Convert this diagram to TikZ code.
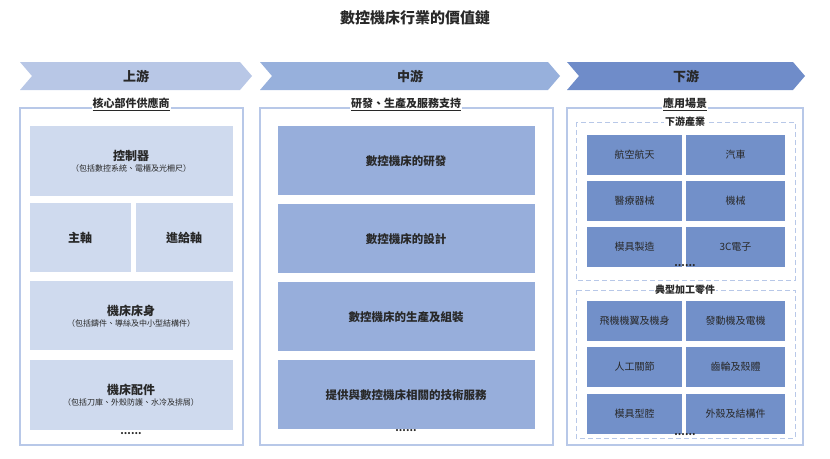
\documentclass[tikz,border=0pt]{standalone}
\usepackage{fontspec}
\setmainfont{Noto Sans CJK TC}
\usepackage{tikz}
\usetikzlibrary{positioning}
\definecolor{upband}{RGB}{184, 199, 230}
\definecolor{upbox}{RGB}{207, 218, 238}
\definecolor{midband}{RGB}{151, 176, 220}
\definecolor{midbox}{RGB}{151, 174, 219}
\definecolor{downband}{RGB}{111, 140, 201}
\definecolor{downbox}{RGB}{114, 144, 201}
\definecolor{framec}{RGB}{184, 200, 232}
\definecolor{txt}{RGB}{40, 40, 40}
\tikzset{
  band/.style={inner sep=0pt, font=\bfseries\fontsize{13}{13}\selectfont, text=txt},
  sub/.style={inner sep=1pt, font=\bfseries\fontsize{11}{11}\selectfont, text=txt, fill=white},
  frame/.style={draw=framec, line width=1.2pt},
  dframe/.style={draw=framec, line width=1pt, dash pattern=on 5pt off 3pt},
  cell/.style={anchor=north west, inner sep=0pt, align=center, text=txt},
  dots/.style={font=\bfseries\fontsize{10}{10}\selectfont, text=txt}
}
\begin{document}
\begin{tikzpicture}[x=1pt,y=-1pt]
\useasboundingbox (0,0) rectangle (830,458);
% Title
\node[font=\bfseries\fontsize{15}{15}\selectfont, text=txt] (title) at (415,18) {數控機床行業的價值鏈};

% Banners
\fill[upband] (20,62) -- (240,62) -- (252,76) -- (240,90) -- (20,90) -- (32,76) -- cycle;
\fill[midband] (260,62) -- (548,62) -- (560,76) -- (548,90) -- (260,90) -- (272,76) -- cycle;
\fill[downband] (567,62) -- (793,62) -- (805,76) -- (793,90) -- (567,90) -- (579,76) -- cycle;
\node[band] (up) at (136,76) {上游};
\node[band] (mid) at (410,76) {中游};
\node[band] (down) at (686,76) {下游};

% Frames
\draw[frame] (20,108) rectangle (243,445);
\draw[frame] (260,108) rectangle (553,445);
\draw[frame] (567,108) rectangle (803,445);
\node[sub] (upsub) at (131,104) {\underline{核心部件供應商}};
\node[sub] (midsub) at (406,104) {\underline{研發、生產及服務支持}};
\node[sub] (downsub) at (685,104) {\underline{應用場景}};

% Upstream
\fill[upbox] (30,126) rectangle (233,196);
\node[cell, anchor=center] (ctrl) at (131,161) {\bfseries\fontsize{12}{14}\selectfont 控制器\\[-1pt]\fontsize{8}{9}\selectfont（包括數控系統、電櫃及光柵尺）};
\fill[upbox] (30,203) rectangle (131,272);
\fill[upbox] (136,203) rectangle (233,272);
\node[cell, anchor=center, font=\bfseries\fontsize{12}{12}\selectfont] (spindle) at (80,238) {主軸};
\node[cell, anchor=center, font=\bfseries\fontsize{12}{12}\selectfont] (feed) at (184,238) {進給軸};
\fill[upbox] (30,281) rectangle (233,350);
\node[cell, anchor=center] (bed) at (131,316) {\bfseries\fontsize{12}{14}\selectfont 機床床身\\[-1pt]\fontsize{8}{9}\selectfont（包括鑄件、導絲及中小型結構件）};
\fill[upbox] (30,360) rectangle (233,430);
\node[cell, anchor=center] (acc) at (131,395) {\bfseries\fontsize{12}{14}\selectfont 機床配件\\[-1pt]\fontsize{8}{9}\selectfont（包括刀庫、外殼防護、水冷及排屑）};
\node[dots] (updots) at (131,434) {......};

% Midstream
\foreach \y/\t [count=\i] in {126/數控機床的研發, 204/數控機床的設計, 282/數控機床的生產及組裝, 360/提供與數控機床相關的技術服務}{
  \fill[midbox] (278,\y) rectangle (535,\y+69);
  \node[cell, anchor=center, font=\bfseries\fontsize{11.5}{12}\selectfont] (mid\i) at (406,\y+35) {\t};
}
\node[dots] (middots) at (406,431) {......};

% Downstream
\draw[dframe] (576,122) rectangle (795,280);
\draw[dframe] (576,290) rectangle (795,438);
\node[sub, font=\bfseries\fontsize{10}{10}\selectfont] (ind) at (685,122) {下游產業};
\node[sub, font=\bfseries\fontsize{10}{10}\selectfont] (parts) at (685,290) {典型加工零件};
\foreach \y/\a/\b [count=\i] in {135/航空航天/汽車, 181/醫療器械/機械, 227/模具製造/3C電子, 301/飛機機翼及機身/發動機及電機, 347/人工關節/齒輪及殼體, 394/模具型腔/外殼及結構件}{
  \fill[downbox] (587,\y) rectangle (682,\y+40);
  \fill[downbox] (686,\y) rectangle (785,\y+40);
  \node[cell, anchor=center, font=\fontsize{10}{10}\selectfont] (dl\i) at (634.5,\y+20) {\a};
  \node[cell, anchor=center, font=\fontsize{10}{10}\selectfont] (dr\i) at (735.5,\y+20) {\b};
}
\node[dots] (inddots) at (685,266) {......};
\node[dots] (partsdots) at (685,435) {......};
\end{tikzpicture}
\end{document}
